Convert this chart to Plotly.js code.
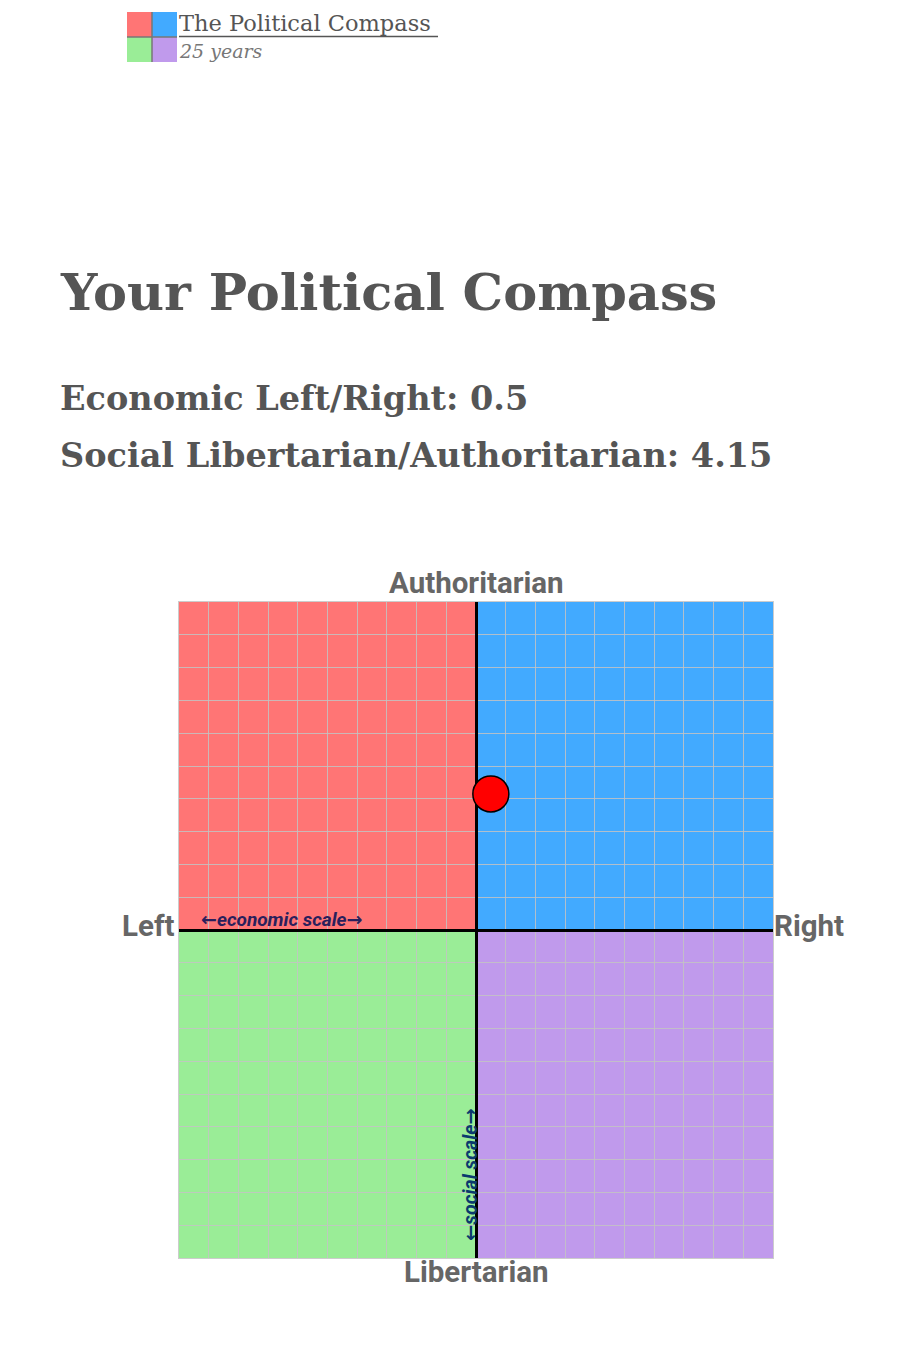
<!DOCTYPE html>
<html><head><meta charset="utf-8">
<script src="https://cdn.plot.ly/plotly-3.0.1.min.js"></script>
<style>html,body{margin:0;padding:0;background:#fff}#c{width:905px;height:1364px}</style>
</head><body><div id="c"></div>
<script>
// Data
const economicScore = [0.5];
const socialScore = [4.15];
const quadrantX0 = [-10, 0, -10, 0];
const quadrantX1 = [0, 10, 0, 10];
const quadrantY0 = [0, 0, -10, -10];
const quadrantY1 = [10, 10, 0, 0];
const quadrantColors = ['#ff7575', '#42aaff', '#9aed97', '#c09aec'];
const axisRange = [-10, 10];
const titleText = 'Your Political Compass';
const line1 = 'Economic Left/Right: ' + economicScore[0];
const line2 = 'Social Libertarian/Authoritarian: ' + socialScore[0];

const W = 905, H = 1364;
const L = 179, R = 773, T = 602, B = 1258;
const px = x => (x - L) / (R - L);
const py = y => (B - y) / (B - T);

const shapes = [];
for (let i = 0; i < 4; i++) {
  shapes.push({type:'rect', xref:'x', yref:'y', x0:quadrantX0[i], x1:quadrantX1[i], y0:quadrantY0[i], y1:quadrantY1[i],
    fillcolor:quadrantColors[i], line:{width:0}, layer:'below'});
}
// logo
const logo = [[127,12,'#ff7575'],[152,12,'#42aaff'],[127,37,'#9aed97'],[152,37,'#c09aec']];
logo.forEach(([x,y,c]) => shapes.push({type:'rect', xref:'paper', yref:'paper', x0:px(x), x1:px(x+25), y0:py(y+25), y1:py(y), fillcolor:c, line:{width:0}}));
shapes.push({type:'line', xref:'paper', yref:'paper', x0:px(152), x1:px(152), y0:py(62), y1:py(12), line:{color:'#777', width:1.5}});
shapes.push({type:'line', xref:'paper', yref:'paper', x0:px(127), x1:px(177), y0:py(37), y1:py(37), line:{color:'#777', width:1.5}});
shapes.push({type:'line', xref:'paper', yref:'paper', x0:px(179), x1:px(438), y0:py(36.5), y1:py(36.5), line:{color:'#555', width:1.5}});

const gray = '#555555';
const serif = 'DejaVu Serif';
const ann = (text, x, y, xa, ya, font, extra) => Object.assign({text, xref:'paper', yref:'paper', x:px(x), y:py(y), xanchor:xa, yanchor:ya, showarrow:false, font}, extra||{});
const la = '<span style="font-family:DejaVu Sans;font-style:normal">\u2190</span>';
const ra = '<span style="font-family:DejaVu Sans;font-style:normal">\u2192</span>';

const annotations = [
  ann('The Political Compass', 177, 23, 'left', 'middle', {family:serif, size:22.5, color:gray}),
  ann('25 years', 177, 51, 'left', 'middle', {family:serif, size:19, color:'#777', style:'italic'}),
  ann(titleText, 58, 292, 'left', 'middle', {family:serif, size:51, color:gray, weight:700}),
  ann(line1, 58, 399, 'left', 'middle', {family:serif, size:33.5, color:gray, weight:700}),
  ann(line2, 58, 455, 'left', 'middle', {family:serif, size:33.5, color:gray, weight:700}),
  ann('Authoritarian', 476, 583, 'center', 'middle', {family:'Roboto', size:29.5, color:'#666', weight:700}),
  ann('Libertarian', 476, 1272, 'center', 'middle', {family:'Roboto', size:29.5, color:'#666', weight:700}),
  ann('Left', 176, 926, 'right', 'middle', {family:'Roboto', size:29.5, color:'#666', weight:700}),
  ann('Right', 772, 926, 'left', 'middle', {family:'Roboto', size:29.5, color:'#666', weight:700}),
  ann(la + 'economic scale' + ra, 281, 919, 'center', 'middle', {family:'Roboto', size:19, color:'#2a1f5c', weight:700, style:'italic'}),
  ann(la + 'social scale' + ra, 470, 1175, 'center', 'middle', {family:'Roboto', size:19.5, color:'#0a3a6e', weight:700, style:'italic'}, {textangle:-90})
];

const axisCommon = {range:axisRange, dtick:1, tick0:0, showticklabels:false, ticks:'', fixedrange:true,
  showgrid:true, gridcolor:'rgba(195,195,195,0.85)', gridwidth:1,
  zeroline:true, zerolinecolor:'#000', zerolinewidth:3,
  showline:true, mirror:true, linecolor:'#cccccc', linewidth:1};

const data = [{type:'scatter', mode:'markers', x:economicScore, y:socialScore,
  marker:{size:36, color:'#ff0000', line:{color:'#000', width:1.5}}, hoverinfo:'skip', cliponaxis:false}];

const layout = {width:W, height:H, margin:{l:L, r:W-R, t:T, b:H-B, pad:0},
  paper_bgcolor:'#fff', plot_bgcolor:'#fff', showlegend:false,
  xaxis:Object.assign({}, axisCommon), yaxis:Object.assign({}, axisCommon),
  shapes, annotations};

Plotly.newPlot('c', data, layout, {staticPlot:true, displayModeBar:false});
</script></body></html>
